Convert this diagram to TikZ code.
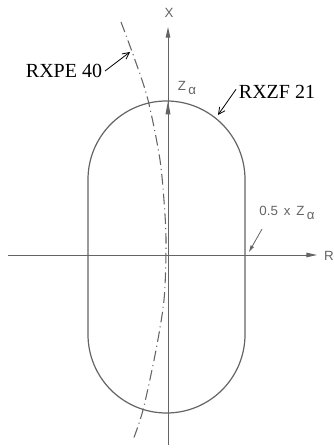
\documentclass[tikz,border=0pt]{standalone}
\usepackage{fontspec}
\setmainfont{Liberation Serif}
\setsansfont{Liberation Sans}
\usepackage{xcolor}
\usepackage{tikz}
\usetikzlibrary{arrows.meta, positioning}
\definecolor{lineGray}{RGB}{100, 100, 100}

\begin{document}
\begin{tikzpicture}[
          x=0.75pt, y=-0.75pt,
          axis/.style={line width=0.7pt, color=lineGray, -{Triangle[length=8pt, width=3.4pt]}},
          contour/.style={line width=0.9pt, color=lineGray},
          trace/.style={line width=0.8pt, color=lineGray, dash pattern=on 8pt off 3pt on 0.8pt off 3pt},
          tag/.style={font=\fontsize{15}{15}\selectfont, inner sep=0pt},
          axlabel/.style={font=\sffamily\fontsize{10}{10}\selectfont, text=lineGray, inner sep=0pt},
          ptr/.style={-{Straight Barb[length=5pt, width=5pt]}, line width=0.6pt}
        ]
          \useasboundingbox (0,0) rectangle (334,448);

          % axes
          \coordinate (origin) at (168,255);
          \coordinate (xbot) at (168,445);
          \coordinate (xtop) at (168,27);
          \coordinate (rleft) at (8,255);
          \coordinate (rright) at (317,255);
          \draw[axis] (xbot) -- (xtop);
          \draw[axis] (rleft) -- (rright);
          \node[axlabel] (xlab) at (169,13) {X};
          \node[axlabel] (rlab) at (329,256) {R};

          % Z alpha vector
          \coordinate (ztip) at (168,101);
          \draw[axis, -{Triangle[length=10pt, width=3.6pt]}] (origin) -- (ztip);
          \node[axlabel] (zlab) at (187,88) {Z\raisebox{-2.5pt}{\,α}};

          % RXZF 21 contour
          \draw[contour] (88,179.5) arc[start angle=180, end angle=360, radius=78.5]
            -- (245,334.5) arc[start angle=0, end angle=180, radius=78.5] -- cycle;

          % RXPE 40 trace
          \draw[trace] plot[smooth] coordinates {(121,22) (135,60) (148,100) (160,160)
            (165,215) (166,250) (164,300) (156,350) (143,410) (133,440)};

          % labels and pointers
          \node[tag] (rxpe) at (64,71) {RXPE 40};
          \node[tag] (rxzf) at (277,92) {RXZF 21};
          \coordinate (rxpeTip) at (130,52);
          \coordinate (rxzfTip) at (218,115);
          \draw[ptr] (rxpe.east) ++(2pt,0) -- (rxpeTip);
          \draw[ptr] (rxzf.west) ++(-2pt,2pt) -- (rxzfTip);

          \node[axlabel] (half) at (287,213) {0.5\, x\, Z\raisebox{-2.5pt}{\,α}};
          \coordinate (halfFrom) at (262,229);
          \coordinate (halfTip) at (249,252);
          \draw[line width=0.6pt, color=lineGray, -{Triangle[length=5pt, width=2.6pt]}] (halfFrom) -- (halfTip);
        \end{tikzpicture}
\end{document}
